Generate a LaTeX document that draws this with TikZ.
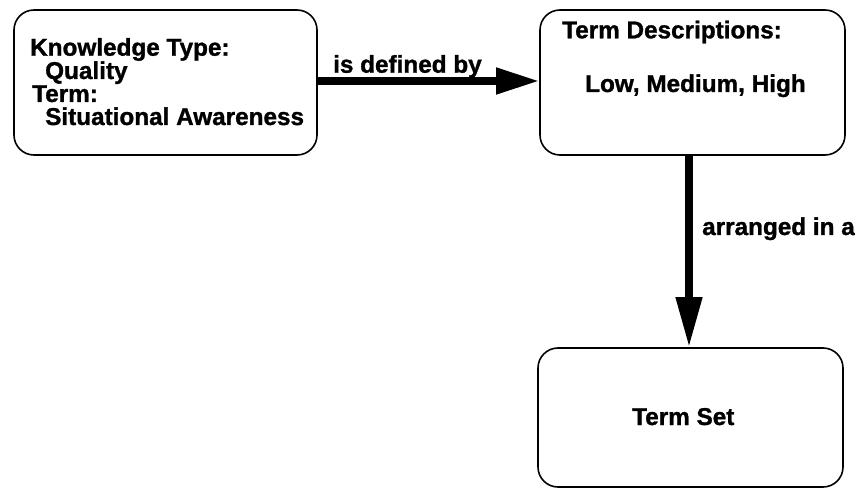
\documentclass[tikz,border=0pt]{standalone}
\usepackage{fontspec}
\setmainfont{Liberation Sans}[BoldFeatures={FakeBold=1.2}]
\usetikzlibrary{arrows.meta}
\begin{document}
\begin{tikzpicture}[x=1bp,y=-1bp,
  box/.style={draw, line width=1.6bp, rounded corners=20bp, inner sep=0pt},
  lbl/.style={anchor=base west, inner sep=0pt,
    font=\fontsize{24.3bp}{23.5bp}\selectfont\bfseries},
  conn/.style={line width=7.5bp}
]
  % page frame
  \path[use as bounding box, fill=white] (0,0) rectangle (855,489);

  % boxes
  \node[box, minimum width=303bp, minimum height=145bp] (b1) at (165.5,82.5) {};
  \node[box, minimum width=305bp, minimum height=145bp] (b2) at (692.5,82.5) {};
  \node[box, minimum width=305bp, minimum height=139bp] (b3) at (690.5,417.5) {};

  % texts of the first box
  \node[lbl] (kt) at (30,55.7) {Knowledge Type:};
  \node[lbl] (kq) at (45,79) {Quality};
  \node[lbl] (tt) at (32,102) {Term:};
  \node[lbl] (tv) at (45,125) {Situational Awareness};

  % texts of the second and third boxes
  \node[lbl] (td) at (562,38.3) {Term Descriptions:};
  \node[lbl] (tl) at (585,92) {Low, Medium, High};
  \node[lbl] (ts) at (632,425) {Term Set};

  % connectors
  \draw[conn, -{Triangle[length=43bp,width=25bp]}] ([yshift=1.5bp]b1.east) -- ([yshift=1.5bp]b2.west);
  \draw[conn, -{Triangle[length=50bp,width=25bp]}] ([xshift=-3.5bp]b2.south) -- ([xshift=-3.5bp]b2.south |- b3.north);

  % connector labels
  \node[lbl] (l1) at (333,72.7) {is defined by};
  \node[lbl] (l2) at (702,235) {arranged in a};
\end{tikzpicture}
\end{document}
